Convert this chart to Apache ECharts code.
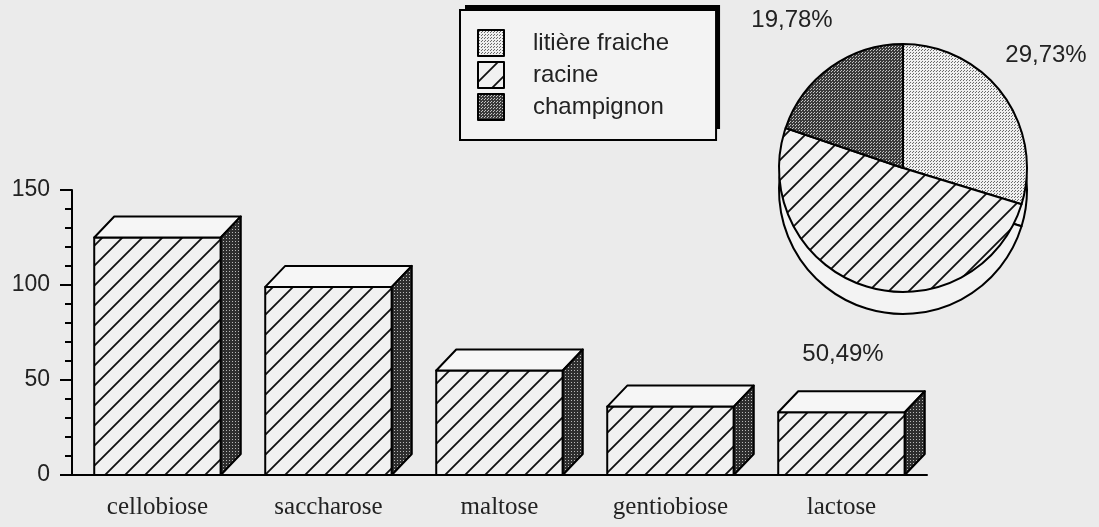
<!DOCTYPE html>
<html>
<head>
<meta charset="utf-8">
<script src="https://cdn.jsdelivr.net/npm/echarts@6.0.0/dist/echarts.min.js"></script>
<style>
  html, body { margin: 0; padding: 0; background: #ebebeb; }
  #main { width: 1099px; height: 527px; }
</style>
</head>
<body>
<div id="main"></div>
<script>
// données du graphique
var sucres = ['cellobiose', 'saccharose', 'maltose', 'gentiobiose', 'lactose'];
var valeurs = [125, 99, 55, 36, 33];
var origines = ['litière fraiche', 'racine', 'champignon'];
var pourcentages = [29.73, 50.49, 19.78];
var graduations = [0, 50, 100, 150];

// motifs (hachures, trame claire, trame foncée)
function hachures(pas, fond) {
  var c = document.createElement('canvas');
  c.width = pas; c.height = pas;
  var ctx = c.getContext('2d');
  ctx.fillStyle = fond;
  ctx.fillRect(0, 0, pas, pas);
  ctx.strokeStyle = '#111';
  ctx.lineWidth = 1.8;
  ctx.beginPath();
  ctx.moveTo(-2, pas + 2); ctx.lineTo(pas + 2, -2);
  ctx.moveTo(-2, 2); ctx.lineTo(2, -2);
  ctx.moveTo(pas - 2, pas + 2); ctx.lineTo(pas + 2, pas - 2);
  ctx.stroke();
  return { type: 'pattern', image: c, repeat: 'repeat' };
}
function trame(fond, point, n) {
  var c = document.createElement('canvas');
  c.width = 3; c.height = 3;
  var ctx = c.getContext('2d');
  ctx.fillStyle = fond;
  ctx.fillRect(0, 0, 3, 3);
  ctx.fillStyle = point;
  ctx.fillRect(1, 1, 1, 1);
  if (n > 1) ctx.fillRect(0, 2, 1, 1);
  return { type: 'pattern', image: c, repeat: 'repeat' };
}

var motifRacine = hachures(20, '#f1f1f1');
var motifLitiere = trame('#efefef', '#6a6a6a', 2);
var motifChampignon = trame('#3a3a3a', '#c4c4c4', 2);
var motifCote = trame('#2e2e2e', '#b8b8b8', 1);

var profondeur = [20, 21];   // décalage de la face arrière des barres
var centreCamembert = [903, 168];
var rayonCamembert = 124;
var epaisseurCamembert = 22;
// position des étiquettes de pourcentage, relative au centre du camembert
var decalEtiquettes = [[143, -113], [-60, 186], [-111, -148]];

function renderBarre(params, api) {
  var idx = api.value(0);
  var haut = api.coord([idx, api.value(1)]);
  var bas = api.coord([idx, 0]);
  var larg = api.size([1, 0])[0] * 0.74;
  var x0 = haut[0] - larg / 2;
  var y0 = haut[1];
  var y1 = bas[1];
  var dx = profondeur[0], dy = profondeur[1];
  var trait = { stroke: '#000', lineWidth: 2, lineJoin: 'round' };
  return {
    type: 'group',
    children: [
      {
        type: 'rect',
        shape: { x: x0, y: y0, width: larg, height: y1 - y0 },
        style: Object.assign({ fill: motifRacine }, trait)
      },
      {
        type: 'polygon',
        shape: { points: [[x0, y0], [x0 + dx, y0 - dy], [x0 + larg + dx, y0 - dy], [x0 + larg, y0]] },
        style: Object.assign({ fill: '#f6f6f6' }, trait)
      },
      {
        type: 'polygon',
        shape: { points: [[x0 + larg, y0], [x0 + larg + dx, y0 - dy], [x0 + larg + dx, y1 - dy], [x0 + larg, y1]] },
        style: Object.assign({ fill: motifCote }, trait)
      }
    ]
  };
}

// légende : le cadre et son ombre noire décalée en haut à droite
var legendeBase = {
  orient: 'vertical',
  top: 10,
  padding: [19, 47, 19, 17],
  itemWidth: 26,
  itemHeight: 26,
  itemGap: 4,
  selectedMode: false,
  icon: 'rect',
  textStyle: { fontFamily: 'Liberation Sans', fontSize: 24, color: '#222', padding: [0, 0, 0, 24] },
  data: origines
};

var chart = echarts.init(document.getElementById('main'), null, { renderer: 'canvas' });

var option = {
  backgroundColor: '#ebebeb',
  animation: false,
  legend: [
    Object.assign({}, legendeBase, {
      left: 465,
      top: 5,
      z: 1,
      backgroundColor: '#000',
      itemStyle: { color: '#000', borderWidth: 0 },
      textStyle: Object.assign({}, legendeBase.textStyle, { color: '#000' })
    }),
    Object.assign({}, legendeBase, {
      left: 460,
      z: 2,
      backgroundColor: '#f3f3f3',
      borderColor: '#000',
      borderWidth: 2,
      itemStyle: { borderColor: '#000', borderWidth: 2 }
    })
  ],
  grid: [
    { left: 72, right: 172, top: 190, bottom: 52 },
    { left: 72, right: 172, top: 190, bottom: 52 }
  ],
  xAxis: [
    {
      type: 'category',
      data: sucres,
      gridIndex: 0,
      axisLine: { lineStyle: { color: '#000', width: 2 } },
      axisTick: { length: 8, lineStyle: { color: '#000', width: 2 } },
      axisLabel: { fontFamily: 'Liberation Serif', fontSize: 25, color: '#222', margin: 20 }
    },
    {
      type: 'category',
      data: sucres,
      gridIndex: 1,
      axisLine: { show: false },
      axisTick: { alignWithLabel: true, length: 8, lineStyle: { color: '#000', width: 2 } },
      axisLabel: { show: false }
    }
  ],
  yAxis: [
    {
      type: 'value',
      gridIndex: 0,
      min: graduations[0],
      max: graduations[graduations.length - 1],
      interval: graduations[1] - graduations[0],
      splitLine: { show: false },
      axisLine: { show: true, lineStyle: { color: '#000', width: 2 } },
      axisTick: { show: true, length: 12, lineStyle: { color: '#000', width: 2 } },
      minorTick: { show: true, splitNumber: 5, length: 7, lineStyle: { color: '#000', width: 2 } },
      axisLabel: { fontFamily: 'Liberation Sans', fontSize: 23, color: '#222', margin: 22 }
    },
    {
      type: 'value',
      gridIndex: 1,
      min: graduations[0],
      max: graduations[graduations.length - 1],
      show: false
    }
  ],
  series: [
    {
      name: 'sucres',
      type: 'custom',
      xAxisIndex: 0,
      yAxisIndex: 0,
      renderItem: renderBarre,
      encode: { x: 0, y: 1 },
      data: valeurs.map(function (v, i) { return [i, v]; }),
      z: 3
    },
    {
      name: 'camembert',
      type: 'pie',
      center: centreCamembert,
      radius: rayonCamembert,
      startAngle: 90,
      clockwise: true,
      z: 5,
      silent: true,
      itemStyle: { borderColor: '#000', borderWidth: 2 },
      label: {
        show: true,
        position: 'outside',
        alignTo: 'none',
        overflow: 'none',
        width: 200,
        fontFamily: 'Liberation Sans',
        fontSize: 24,
        color: '#222',
        formatter: function (p) {
          return p.value.toFixed(2).replace('.', ',') + '%';
        }
      },
      labelLine: { show: false },
      labelLayout: function (p) {
        var d = decalEtiquettes[p.dataIndex];
        return {
          x: centreCamembert[0] + d[0],
          y: centreCamembert[1] + d[1],
          align: 'center',
          verticalAlign: 'middle'
        };
      },
      emphasis: { disabled: true },
      data: [
        { name: origines[0], value: pourcentages[0], itemStyle: { color: motifLitiere } },
        { name: origines[1], value: pourcentages[1], itemStyle: { color: motifRacine } },
        { name: origines[2], value: pourcentages[2], itemStyle: { color: motifChampignon } }
      ]
    },
    {
      // tranche du camembert (effet 3D)
      name: 'epaisseur',
      type: 'pie',
      center: [centreCamembert[0], centreCamembert[1] + epaisseurCamembert],
      radius: rayonCamembert,
      startAngle: 90,
      z: 4,
      silent: true,
      label: { show: false },
      labelLine: { show: false },
      emphasis: { disabled: true },
      itemStyle: { color: '#f3f3f3', borderColor: '#000', borderWidth: 2 },
      data: pourcentages
    }
  ]
};

chart.setOption(option);
</script>
</body>
</html>
